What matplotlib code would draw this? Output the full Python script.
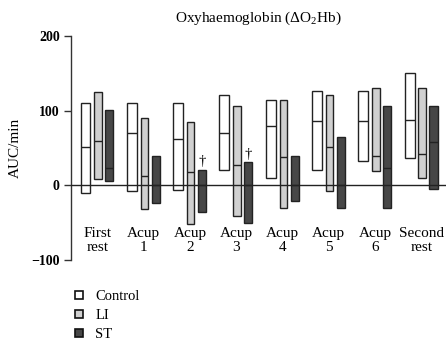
import matplotlib
matplotlib.use("Agg")
import matplotlib.pyplot as plt
from matplotlib.lines import Line2D

plt.rcParams['font.family'] = ['Liberation Serif', 'DejaVu Serif']
plt.rcParams['mathtext.fontset'] = 'custom'
plt.rcParams['mathtext.rm'] = 'Liberation Serif'
plt.rcParams['mathtext.it'] = 'Liberation Serif:italic'

# categories and series (low, median, high)
categories = ["First\nrest", "Acup\n1", "Acup\n2", "Acup\n3",
              "Acup\n4", "Acup\n5", "Acup\n6", "Second\nrest"]

control_low = [-10, -7, -6, 20, 10, 21, 33, 37]
control_med = [52, 70, 62, 70, 79, 86, 86, 88]
control_high = [111, 111, 111, 121, 115, 126, 126, 151]

li_low = [8, -31, -51, -41, -30, -7, 19, 10]
li_med = [59, 13, 18, 27, 38, 52, 40, 42]
li_high = [125, 90, 85, 106, 115, 121, 131, 131]

st_low = [6, -24, -36, -50, -21, -30, -30, -5]
st_med = [23, 0, 0, 0, 0, 0, 23, 58]
st_high = [101, 40, 21, 31, 40, 65, 106, 106]

dagger = [False, False, True, True, False, False, False, False]

fig = plt.figure(figsize=(4.46, 3.4), dpi=100)
ax = fig.add_axes([0.159, 0.235, 0.841, 0.659])

series = [
    (control_low, control_med, control_high, -0.255, 0.215, "white", "Control"),
    (li_low, li_med, li_high, 0.015, 0.16, "#d0d0d0", "LI"),
    (st_low, st_med, st_high, 0.26, 0.175, "#474747", "ST"),
]

x = list(range(len(categories)))
handles = []
for low, med, high, off, w, col, name in series:
    xs = [i + off for i in x]
    heights = [h - l for h, l in zip(high, low)]
    ax.bar(xs, heights, bottom=low, width=w, color=col,
           edgecolor="#222222", linewidth=1.0, zorder=3)
    ax.hlines(med, [v - w / 2 for v in xs], [v + w / 2 for v in xs],
              color="#222222", linewidth=1.0, zorder=4)
    handles.append(Line2D([], [], marker="s", linestyle="none", markersize=6,
                          markerfacecolor=col, markeredgecolor="#111111",
                          markeredgewidth=1.2, label=name))

for i in x:
    if dagger[i]:
        ax.text(i + 0.26, st_high[i] + 2, "\u2020", ha="center", va="bottom",
                fontsize=10.5)
    ax.text(i, -56, categories[i], ha="center", va="top", fontsize=11,
            linespacing=1.05)

ax.axhline(0, color="#222222", linewidth=1.0, zorder=5)

ax.set_xlim(-0.57, 7.53)
ax.set_ylim(-100, 200)
ax.set_yticks([-100, 0, 100, 200])
ax.set_yticklabels(["\u2212100", "0", "100", "200"], fontweight="bold")
ax.tick_params(axis="y", length=5, width=1, labelsize=10, pad=3,
               direction="out", color="#333333")
ax.set_xticks([])
for s in ["top", "right", "bottom"]:
    ax.spines[s].set_visible(False)
ax.spines["left"].set_color("#333333")
ax.spines["left"].set_linewidth(1)

ax.set_ylabel("AUC/min", fontsize=11, labelpad=7)
ax.set_title("Oxyhaemoglobin (\u0394O$_2$Hb)", fontsize=11, x=0.5, pad=10)

fig.legend(handles=handles, loc="upper left", bbox_to_anchor=(0.145, 0.168),
           frameon=False, fontsize=10.5, handlelength=1.0, handletextpad=0.6,
           labelspacing=0.38, borderpad=0)

fig.savefig("out.png", dpi=100)
